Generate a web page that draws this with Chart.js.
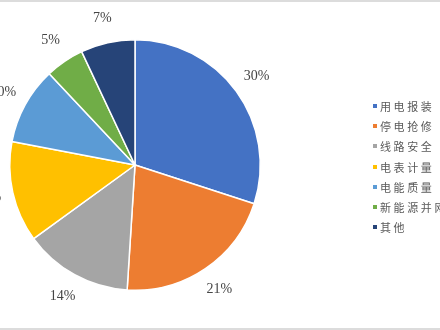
<!DOCTYPE html>
<html>
<head>
<meta charset="utf-8">
<script src="https://cdn.jsdelivr.net/npm/chart.js@4/dist/chart.umd.min.js"></script>
<style>
  html, body { margin: 0; padding: 0; background: #fff; }
  body { width: 440px; height: 330px; overflow: hidden; position: relative; }
  #wrap { position: absolute; left: -60px; top: 0; width: 500px; height: 330px; }
  #topline { position: absolute; left: 0; top: 0; width: 440px; height: 2px; background: #dcdcdc; }
  #botline { position: absolute; left: 0; top: 328px; width: 440px; height: 2px; background: #dcdcdc; }
  #legend { position: absolute; left: 373px; top: 0; white-space: nowrap; }
  .item { position: absolute; left: 0; height: 16px; line-height: 16px;
          font-family: "Noto Sans CJK SC", sans-serif; font-size: 11px; letter-spacing: 2.6px; color: #595959; }
  .sw { position: absolute; left: 0; top: 6px; width: 4px; height: 4px; }
  .tx { position: absolute; left: 7px; top: 0; }
</style>
</head>
<body>
<div id="wrap"><canvas id="c" width="500" height="330"></canvas></div>
<div id="topline"></div>
<div id="botline"></div>
<div id="legend"></div>
<script>
const categories = ["用电报装", "停电抢修", "线路安全", "电表计量", "电能质量", "新能源并网", "其他"];
const shares = [30, 21, 14, 13, 10, 5, 7];
const labels = ["30%", "21%", "14%", "13%", "10%", "5%", "7%"];
const colors = ["#4472C4", "#ED7D31", "#A5A5A5", "#FFC000", "#5B9BD5", "#70AD47", "#264478"];

const outsideLabels = {
  id: 'outsideLabels',
  afterDatasetsDraw(chart) {
    const ctx = chart.ctx;
    const meta = chart.getDatasetMeta(0);
    ctx.save();
    ctx.font = "14px 'Liberation Serif', serif";
    ctx.fillStyle = "#454545";
    ctx.textAlign = "center";
    ctx.textBaseline = "middle";
    meta.data.forEach((arc, i) => {
      const p = arc.getProps(['x', 'y', 'startAngle', 'endAngle', 'outerRadius'], true);
      const mid = (p.startAngle + p.endAngle) / 2;
      const r = p.outerRadius + 25;
      ctx.fillText(labels[i], p.x + Math.cos(mid) * r, p.y + Math.sin(mid) * r);
    });
    ctx.restore();
  }
};

new Chart(document.getElementById('c'), {
  type: 'pie',
  data: {
    labels: categories,
    datasets: [{
      data: shares,
      backgroundColor: colors,
      borderColor: "#ffffff",
      borderWidth: 1.5
    }]
  },
  options: {
    responsive: false,
    devicePixelRatio: 1,
    animation: false,
    layout: { padding: { left: 69, right: 179, top: 39, bottom: 39 } },
    plugins: { legend: { display: false }, tooltip: { enabled: false } }
  },
  plugins: [outsideLabels]
});

const legend = document.getElementById('legend');
categories.forEach((name, i) => {
  const d = document.createElement('div');
  d.className = 'item';
  d.style.top = (98 + i * 20.2) + 'px';
  const s = document.createElement('span');
  s.className = 'sw';
  s.style.background = colors[i];
  const t = document.createElement('span');
  t.className = 'tx';
  t.textContent = name;
  d.appendChild(s); d.appendChild(t);
  legend.appendChild(d);
});
</script>
</body>
</html>
